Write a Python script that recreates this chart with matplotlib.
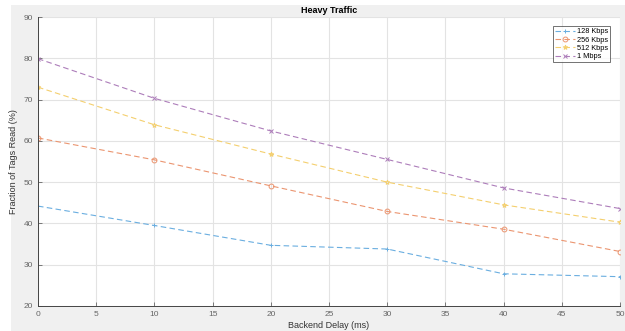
import matplotlib
matplotlib.use("Agg")
import matplotlib.pyplot as plt
from matplotlib.patches import Rectangle

plt.rcParams['font.family'] = ['Liberation Sans', 'DejaVu Sans']

# backend delay (ms)
delay = [0, 10, 20, 30, 40, 50]

# fraction of tags read (%) per link rate
rate_128k = [44.2, 39.5, 34.7, 33.8, 27.8, 27.1]
rate_256k = [60.7, 55.4, 49.1, 42.9, 38.6, 33.2]
rate_512k = [73.0, 63.9, 56.8, 50.0, 44.5, 40.3]
rate_1m = [79.9, 70.3, 62.4, 55.5, 48.6, 43.6]

labels = ['128 Kbps', '256 Kbps', '512 Kbps', '1 Mbps']
colors = ['#6aaee0', '#eb9570', '#f4cf6e', '#ad7dba']
markers = ['+', 'o', '*', 'x']

fig = plt.figure(figsize=(6.25, 3.31), dpi=100)
fig.patch.set_facecolor('white')
# matlab style grey figure panel
fig.patches.append(Rectangle((11 / 625, 0), 1, 1 - 5 / 331, transform=fig.transFigure,
                             facecolor='#f0f0f0', edgecolor='none', zorder=-1))

ax = fig.add_axes([38 / 625, 1 - 306 / 331, 582 / 625, 289 / 331])
ax.set_facecolor('white')

series = [rate_128k, rate_256k, rate_512k, rate_1m]
for vals, lab, col, mk in zip(series, labels, colors, markers):
    ax.plot(delay, vals, linestyle=(0, (5, 3)), color=col, linewidth=0.8,
            marker=mk, markersize=3.5, markerfacecolor='none', markeredgewidth=0.7, label=lab)

ax.set_xlim(0, 50)
ax.set_ylim(20, 90)
ax.set_xticks(range(0, 51, 5))
ax.set_yticks(range(20, 91, 10))
ax.grid(True, color='#e3e3e3', linewidth=0.8)
ax.set_axisbelow(True)
ax.tick_params(labelsize=6, colors='#666666', length=3, width=0.6, direction='in')
for s in ['top', 'right']:
    ax.spines[s].set_visible(False)
for s in ['left', 'bottom']:
    ax.spines[s].set_color('#444444')
    ax.spines[s].set_linewidth(0.7)

ax.set_title('Heavy Traffic', fontsize=6.5, fontweight='bold', pad=3)
ax.set_xlabel('Backend Delay (ms)', fontsize=6.5, color='#333333', labelpad=2)
ax.set_ylabel('Fraction of Tags Read (%)', fontsize=6.5, color='#333333', labelpad=4)

leg = ax.legend(loc='upper right', fontsize=5.3, frameon=True, fancybox=False,
                handlelength=2.8, borderpad=0.25, labelspacing=0.15, handletextpad=0.3,
                bbox_to_anchor=(0.99, 0.98))
leg.get_frame().set_edgecolor('#333333')
leg.get_frame().set_linewidth(0.6)

fig.savefig('out.png', dpi=100)
